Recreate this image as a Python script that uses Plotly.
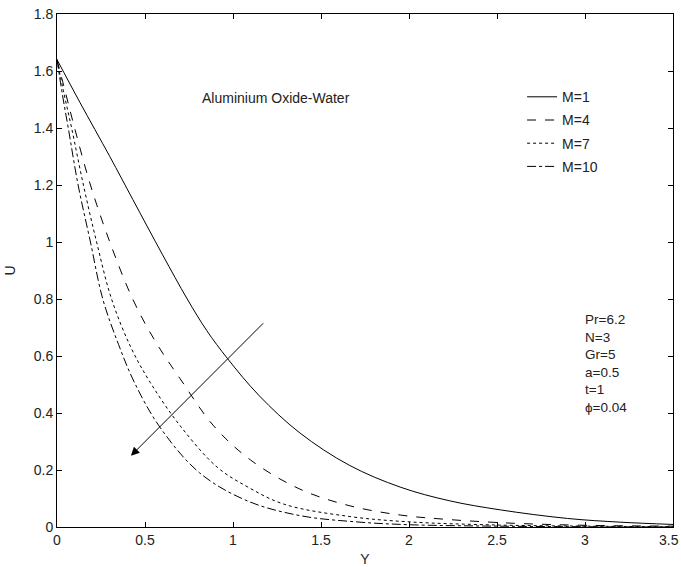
import plotly.graph_objects as go

# Dados
y_m1 = [0, 0.13, 0.3, 0.43, 0.6, 0.74, 0.85, 0.97, 1.15, 1.38, 1.66, 1.95, 2.23, 2.52, 2.9, 3.2, 3.5]
u_m1 = [1.64, 1.49, 1.30, 1.15, 0.955, 0.80, 0.69, 0.59, 0.46, 0.33, 0.217, 0.14, 0.092, 0.06, 0.03, 0.017, 0.009]

y_m4 = [0, 0.05, 0.10, 0.19, 0.30, 0.43, 0.56, 0.70, 0.89, 1.1, 1.38, 1.66, 1.95, 2.23, 2.6, 3.0, 3.5]
u_m4 = [1.64, 1.52, 1.40, 1.20, 1.0, 0.80, 0.65, 0.52, 0.355, 0.235, 0.133, 0.075, 0.042, 0.026, 0.013, 0.006, 0.003]

y_m7 = [0, 0.04, 0.083, 0.15, 0.225, 0.31, 0.42, 0.53, 0.70, 0.91, 1.085, 1.29, 1.66, 2.0, 2.5, 3.0, 3.5]
u_m7 = [1.64, 1.52, 1.40, 1.20, 1.00, 0.80, 0.63, 0.507, 0.355, 0.21, 0.14, 0.08, 0.037, 0.018, 0.007, 0.003, 0.001]

y_m10 = [0, 0.03, 0.064, 0.12, 0.19, 0.26, 0.35, 0.44, 0.585, 0.81, 1.08, 1.38, 1.7, 2.0, 2.5, 3.0, 3.5]
u_m10 = [1.64, 1.52, 1.40, 1.20, 1.00, 0.80, 0.64, 0.507, 0.35, 0.19, 0.092, 0.04, 0.018, 0.008, 0.003, 0.001, 0.0]

series = [
    ("M=1", y_m1, u_m1, "solid"),
    ("M=4", y_m4, u_m4, "dash"),
    ("M=7", y_m7, u_m7, "dot"),
    ("M=10", y_m10, u_m10, "dashdot"),
]

x_ticks = [0, 0.5, 1, 1.5, 2, 2.5, 3, 3.5]
y_ticks = [0, 0.2, 0.4, 0.6, 0.8, 1, 1.2, 1.4, 1.6, 1.8]

params = ["Pr=6.2", "N=3", "Gr=5", "a=0.5", "t=1", "ϕ=0.04"]

fonte = dict(family="Liberation Sans, Arial, sans-serif", size=14, color="#222")

fig = go.Figure()
for nome, x, y, estilo in series:
    fig.add_trace(
        go.Scatter(
            x = x,
            y = y,
            name = nome,
            legendgroup = nome,
            mode = "lines",
            line = dict(color = "black", width = 1, dash = estilo, shape = "spline", smoothing = 1.0)
        )
    )

fig.add_annotation(
    x = 0.42, y = 0.25, ax = 1.18, ay = 0.72,
    xref = "x", yref = "y", axref = "x", ayref = "y",
    text = "", showarrow = True,
    arrowhead = 2, arrowsize = 1.7, arrowwidth = 1, arrowcolor = "black"
)
fig.add_annotation(
    x = 0.81, y = 1.505, xref = "x", yref = "y",
    text = "Aluminium Oxide-Water", showarrow = False,
    xanchor = "left", font = fonte
)
fig.add_annotation(
    x = 2.99, y = 0.76, xref = "x", yref = "y",
    text = "<br>".join(params), showarrow = False,
    xanchor = "left", yanchor = "top", align = "left",
    font = dict(fonte, size = 13.5)
)

# último rótulo do eixo x encostado na borda direita, para não ser cortado
x_labels = [f"{v:g}" for v in x_ticks]
fig.add_annotation(
    x = x_ticks[-1], y = 0, xref = "x", yref = "paper",
    text = x_labels[-1], showarrow = False,
    xanchor = "right", yanchor = "top", xshift = 8, yshift = -3,
    font = fonte
)
x_labels[-1] = ""

eixo = dict(
    showline = True, linecolor = "black", linewidth = 1, mirror = "ticks",
    ticks = "inside", ticklen = 5, tickcolor = "black",
    showgrid = False, zeroline = False, tickfont = fonte, automargin = False
)

fig.update_layout(
    width = 681,
    height = 567,
    plot_bgcolor = "white",
    paper_bgcolor = "white",
    margin = dict(l = 57, r = 8, t = 14, b = 40),
    font = fonte,
    xaxis = dict(eixo, range = [0, 3.5], tickvals = x_ticks,
                 ticktext = x_labels,
                 title = dict(text = "Y", standoff = 7, font = fonte)),
    yaxis = dict(eixo, range = [0, 1.8], tickvals = y_ticks,
                 ticktext = [f"{v:g}" for v in y_ticks],
                 title = dict(text = "U", standoff = 14, font = fonte)),
    legend = dict(
        x = 0.755, y = 0.869, xanchor = "left", yanchor = "top",
        bgcolor = "rgba(0,0,0,0)", borderwidth = 0,
        font = fonte, tracegroupgap = 2
    )
)

# tira a margem padrão do body para a figura ocupar a janela inteira
fig.write_html(
    "out.html",
    config = {"displayModeBar": False},
    post_script = "document.body.style.margin = '0';"
)
